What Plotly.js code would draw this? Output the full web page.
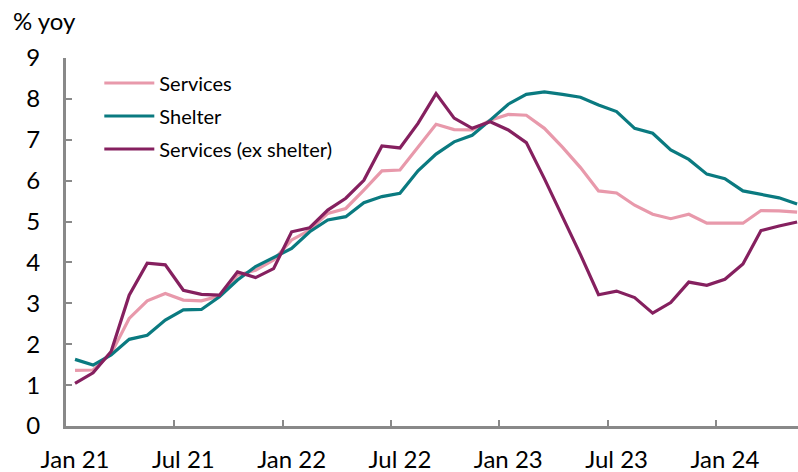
<!DOCTYPE html>
<html>
<head>
<meta charset="utf-8">
<script src="https://cdn.plot.ly/plotly-3.0.1.min.js"></script>
<style>html,body{margin:0;padding:0;background:#fff;overflow:hidden}#chart{width:798px;height:472px}</style>
</head>
<body>
<div id="chart"></div>
<script>
// Monthly, Jan 21 .. May 24
const months = [
  "Jan 21","Feb 21","Mar 21","Apr 21","May 21","Jun 21","Jul 21","Aug 21","Sep 21","Oct 21","Nov 21","Dec 21",
  "Jan 22","Feb 22","Mar 22","Apr 22","May 22","Jun 22","Jul 22","Aug 22","Sep 22","Oct 22","Nov 22","Dec 22",
  "Jan 23","Feb 23","Mar 23","Apr 23","May 23","Jun 23","Jul 23","Aug 23","Sep 23","Oct 23","Nov 23","Dec 23",
  "Jan 24","Feb 24","Mar 24","Apr 24","May 24"
];
const services = [
  1.36,1.37,1.77,2.63,3.06,3.24,3.08,3.06,3.18,3.69,3.81,4.06,
  4.55,4.79,5.20,5.32,5.77,6.24,6.26,6.83,7.38,7.25,7.24,7.48,
  7.62,7.60,7.28,6.82,6.32,5.75,5.70,5.40,5.18,5.07,5.18,4.96,
  4.96,4.96,5.27,5.26,5.23
];
const shelter = [
  1.63,1.49,1.74,2.12,2.22,2.59,2.84,2.85,3.16,3.57,3.90,4.12,
  4.34,4.75,5.04,5.12,5.46,5.61,5.69,6.24,6.65,6.95,7.11,7.48,
  7.87,8.11,8.17,8.11,8.04,7.85,7.69,7.28,7.16,6.75,6.52,6.16,
  6.05,5.75,5.67,5.58,5.43
];
const servicesExShelter = [
  1.04,1.30,1.82,3.20,3.98,3.94,3.32,3.22,3.20,3.77,3.63,3.85,
  4.75,4.85,5.28,5.57,6.01,6.85,6.80,7.40,8.13,7.53,7.28,7.44,
  7.24,6.93,6.05,5.13,4.19,3.21,3.30,3.14,2.76,3.02,3.52,3.44,
  3.59,3.96,4.78,4.89,4.99
];
const tickLabels = ["Jan 21","Jul 21","Jan 22","Jul 22","Jan 23","Jul 23","Jan 24"];
const yTicks = [0,1,2,3,4,5,6,7,8,9];

const idx = months.map((m, i) => i);
const labelPos = tickLabels.map(t => months.indexOf(t));
const boundaryPos = labelPos.slice(1).map(p => p - 0.5);

const FONT = "Lato, 'Open Sans', sans-serif";
const series = [
  {name: "Services", y: services, color: "#E899AB"},
  {name: "Shelter", y: shelter, color: "#0A7A80"},
  {name: "Services (ex shelter)", y: servicesExShelter, color: "#85205F"}
];
const traces = series.map((s, k) => ({
  type: "scatter", mode: "lines", x: idx, y: s.y, name: s.name,
  legendgroup: "g" + k, text: months, hoverinfo: "text+y+name",
  line: {color: s.color, width: 3.2}
}));
traces.push({type: "scatter", mode: "lines", x: [], y: [], xaxis: "x2", showlegend: false, hoverinfo: "skip"});

const xr = [-0.5, 40.05];
const layout = {
  width: 798, height: 472,
  margin: {l: 66, r: 0, t: 58, b: 46},
  paper_bgcolor: "#fff", plot_bgcolor: "#fff",
  font: {family: FONT, size: 24, color: "#000"},
  showlegend: true,
  legend: {x: 0.0455, y: 0.985, xanchor: "left", yanchor: "top", bgcolor: "rgba(0,0,0,0)",
           font: {family: FONT, size: 20, color: "#000"}, tracegroupgap: 4, itemwidth: 50},
  xaxis: {range: xr, tickmode: "array", tickvals: labelPos, ticktext: tickLabels, ticks: "", showgrid: false,
          zeroline: false, showline: true, linecolor: "#898989", linewidth: 3, ticklabelstandoff: 10,
          tickfont: {family: FONT, size: 24, color: "#000"}, fixedrange: true},
  xaxis2: {range: xr, overlaying: "x", anchor: "y", side: "bottom", tickmode: "array", tickvals: boundaryPos,
           showticklabels: false, ticks: "inside", ticklen: 6, tickwidth: 2, tickcolor: "#898989",
           showgrid: false, zeroline: false, showline: false},
  yaxis: {range: [0, 9], tickmode: "array", tickvals: yTicks, ticks: "inside", ticklen: 6, tickwidth: 2,
          tickcolor: "#898989", showgrid: false, zeroline: false, showline: true, linecolor: "#898989",
          linewidth: 3, ticklabelstandoff: 18, tickfont: {family: FONT, size: 24, color: "#000"}, fixedrange: true},
  annotations: [{text: "% yoy", xref: "paper", yref: "paper", x: -0.075, y: 1.103, xanchor: "left", yanchor: "middle",
                 showarrow: false, font: {family: FONT, size: 24, color: "#000"}}]
};
Plotly.newPlot("chart", traces, layout, {displayModeBar: false, staticPlot: true});
</script>
</body>
</html>
